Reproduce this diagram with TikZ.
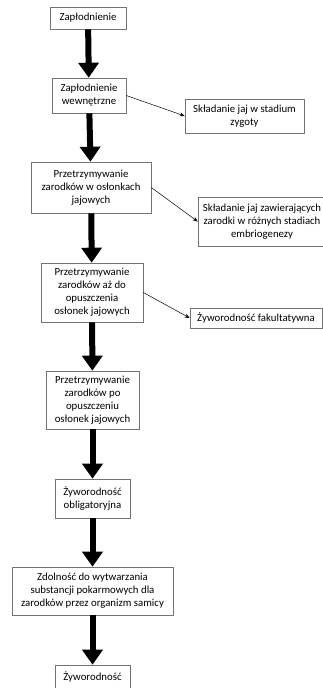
\documentclass[tikz,border=0pt]{standalone}
\usepackage{fontspec}
\setmainfont{Carlito}
\usetikzlibrary{arrows.meta}

\begin{document}
\begin{tikzpicture}[
    x=1pt, y=-1pt,
    every node/.style={
        align=center,
        inner sep=0pt,
        font=\fontsize{10.8}{13}\selectfont
    },
    % Boxes of the main chain
    stage/.style={
        draw=black!55,
        line width=0.6pt,
        fill=white
    },
    % Boxes on the right
    outcome/.style={
        draw=black!55,
        line width=0.6pt,
        fill=white
    },
    big arrow/.style={line width=6pt, -{Triangle[width=20pt,length=15pt]}},
    thin arrow/.style={line width=0.5pt, -{Stealth[length=5pt,width=4pt]}}
]
    \clip (0,0) rectangle (323,688);

    % Main chain
    \node[stage, minimum width=76pt, minimum height=22pt] (zaplod) at (88,18) {Zapłodnienie};
    \node[stage, minimum width=74pt, minimum height=35pt] (wewn) at (89,95.5) {Zapłodnienie\\wewnętrzne};
    \node[stage, minimum width=120pt, minimum height=51pt] (oslonki) at (91,187.5) {Przetrzymywanie\\zarodków w osłonkach\\jajowych};
    \node[stage, minimum width=102pt, minimum height=59pt] (azdo) at (92,292.5) {Przetrzymywanie\\zarodków aż do\\opuszczenia\\osłonek jajowych};
    \node[stage, minimum width=93pt, minimum height=58pt] (po) at (92.5,400) {Przetrzymywanie\\zarodków po\\opuszczeniu\\osłonek jajowych};
    \node[stage, minimum width=75pt, minimum height=39pt] (oblig) at (92.5,498.5) {Żyworodność\\obligatoryjna};
    \node[stage, minimum width=161pt, minimum height=48pt] (pokarm) at (92.5,591) {Zdolność do wytwarzania\\substancji pokarmowych dla\\zarodków przez organizm samicy};
    \node[stage, minimum width=75pt, minimum height=24pt] (zyw) at (92.5,677) {Żyworodność};

    % Side outcomes
    \node[outcome, minimum width=119pt, minimum height=34pt] (zygota) at (244.5,116) {Składanie jaj w stadium\\zygoty};
    \node[outcome, minimum width=128pt, minimum height=49pt] (embrio) at (262,221.5) {Składanie jaj zawierających\\zarodki w różnych stadiach\\embriogenezy};
    \node[outcome, minimum width=132pt, minimum height=20pt] (fakult) at (256,318) {Żyworodność fakultatywna};

    % Connect main chain
    \draw[big arrow] (zaplod) -- (wewn);
    \draw[big arrow] (wewn) -- (oslonki);
    \draw[big arrow] (oslonki) -- (azdo);
    \draw[big arrow] (azdo) -- (po);
    \draw[big arrow] (po) -- (oblig);
    \draw[big arrow] (oblig) -- (pokarm);
    \draw[big arrow] (pokarm) -- (zyw);

    % Branches
    \draw[thin arrow] (wewn.east) -- (zygota.west);
    \draw[thin arrow] (oslonki.east) -- (embrio.west);
    \draw[thin arrow] (azdo.east) -- (fakult.west);
\end{tikzpicture}
\end{document}
